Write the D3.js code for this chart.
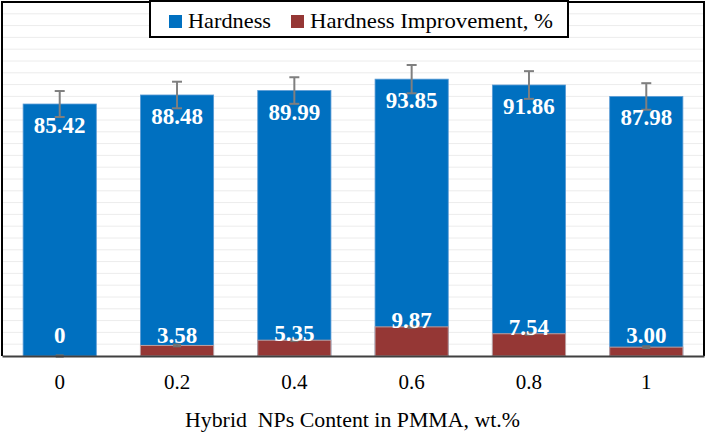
<!DOCTYPE html>
<html>
<head>
<meta charset="utf-8">
<script src="https://cdn.jsdelivr.net/npm/d3@7"></script>
<style>
  body { margin: 0; background: #fff; }
</style>
</head>
<body>
<div id="graph"></div>
<script>
// data
var categories = ["0", "0.2", "0.4", "0.6", "0.8", "1"];
var hardness = [85.42, 88.48, 89.99, 93.85, 91.86, 87.98];
var hardnessErr = [4.4, 4.5, 4.5, 4.8, 4.7, 4.5];
var improvement = [0, 3.58, 5.35, 9.87, 7.54, 3.00];
var improvementLabels = ["0", "3.58", "5.35", "9.87", "7.54", "3.00"];
var improvementErr = [0.2, 0.3, 0.3, 0.3, 0.3, 0.3];
var seriesNames = ["Hardness", "Hardness Improvement, %"];
var xTitle = "Hybrid  NPs Content in PMMA, wt.%";

var svgWidth = 706, svgHeight = 433;
var margin = { top: 2, right: 2, bottom: 77, left: 2 };
var width = svgWidth - margin.left - margin.right;
var height = svgHeight - margin.top - margin.bottom;

var blue = "#0070c0", red = "#953735";
var serif = "Liberation Serif";

var svg = d3.select("#graph")
  .append("svg")
    .attr("width", svgWidth)
    .attr("height", svgHeight)
    .attr("font-family", serif);

var g = svg.append("g")
    .attr("transform", "translate(" + margin.left + "," + margin.top + ")");

var x = d3.scaleBand()
    .domain(categories)
    .range([0, width])
    .paddingInner(0.376)
    .paddingOuter(0.18);

var y = d3.scaleLinear()
    .domain([0, 120])
    .range([height, 0]);

// gridlines
g.append("g")
  .selectAll("line")
  .data(d3.range(4, 120, 4))
  .join("line")
    .attr("x1", 0)
    .attr("x2", width)
    .attr("y1", function(d) { return y(d); })
    .attr("y2", function(d) { return y(d); })
    .attr("stroke", "#ececec")
    .attr("stroke-width", 1);

// hardness bars
g.append("g")
  .selectAll("rect")
  .data(hardness)
  .join("rect")
    .attr("x", function(d, i) { return x(categories[i]); })
    .attr("y", function(d) { return y(d); })
    .attr("width", x.bandwidth())
    .attr("height", function(d) { return y(0) - y(d); })
    .attr("fill", blue)
    .attr("stroke", "#5b9bd5")
    .attr("stroke-width", 0.8);

// improvement bars
g.append("g")
  .selectAll("rect")
  .data(improvement)
  .join("rect")
    .attr("x", function(d, i) { return x(categories[i]); })
    .attr("y", function(d) { return y(d); })
    .attr("width", x.bandwidth())
    .attr("height", function(d) { return y(0) - y(d); })
    .attr("fill", red)
    .attr("stroke", "#c0a0a0")
    .attr("stroke-width", 1);

function errorBars(values, errs, color, capW) {
  var eg = g.append("g").attr("stroke", color).attr("stroke-width", 2);
  values.forEach(function(v, i) {
    var cx = x(categories[i]) + x.bandwidth() / 2;
    var y1 = y(v + errs[i]), y2 = y(v - errs[i]);
    eg.append("line").attr("x1", cx).attr("x2", cx).attr("y1", y1).attr("y2", y2);
    eg.append("line").attr("x1", cx - capW / 2).attr("x2", cx + capW / 2).attr("y1", y1).attr("y2", y1);
    eg.append("line").attr("x1", cx - capW / 2).attr("x2", cx + capW / 2).attr("y1", y2).attr("y2", y2);
  });
}
errorBars(hardness, hardnessErr, "#7f7f7f", 10);
errorBars(improvement, improvementErr, "#6f6f6f", 8);

// value labels
g.append("g")
  .selectAll("text")
  .data(hardness)
  .join("text")
    .attr("x", function(d, i) { return x(categories[i]) + x.bandwidth() / 2; })
    .attr("y", function(d) { return y(d) + 29; })
    .attr("text-anchor", "middle")
    .attr("fill", "#fff")
    .attr("font-family", serif)
    .attr("font-weight", "bold")
    .attr("font-size", 23)
    .text(function(d) { return d.toFixed(2); });

g.append("g")
  .selectAll("text")
  .data(improvement)
  .join("text")
    .attr("x", function(d, i) { return x(categories[i]) + x.bandwidth() / 2; })
    .attr("y", function(d) { return Math.min(y(d) + 1, y(0) - 13); })
    .attr("text-anchor", "middle")
    .attr("fill", "#fff")
    .attr("font-family", serif)
    .attr("font-weight", "bold")
    .attr("font-size", 23)
    .text(function(d, i) { return improvementLabels[i]; });

// frame
g.append("path")
    .attr("d", "M0," + height + "V0H" + width + "V" + height)
    .attr("fill", "none")
    .attr("stroke", "#000")
    .attr("stroke-width", 2);

// x axis
var xAxis = g.append("g")
    .attr("transform", "translate(0," + height + ")")
    .call(d3.axisBottom(x).tickSize(0).tickPadding(18));
xAxis.attr("font-family", serif);
xAxis.select(".domain").attr("stroke", "#404040").attr("stroke-width", 2);
xAxis.selectAll("text")
    .attr("font-family", serif)
    .attr("font-size", 21)
    .attr("fill", "#000");

svg.append("text")
    .attr("x", 185)
    .attr("y", 427)
    .attr("font-family", serif)
    .attr("font-size", 22)
    .attr("textLength", 335)
    .attr("lengthAdjust", "spacingAndGlyphs")
    .attr("xml:space", "preserve")
    .text(xTitle);

// legend
var legend = svg.append("g");
legend.append("rect")
    .attr("x", 150).attr("y", 1)
    .attr("width", 418).attr("height", 36)
    .attr("fill", "#fff")
    .attr("stroke", "#000")
    .attr("stroke-width", 2);
var legendX = [169, 291];
var legendLen = [83, 243];
[blue, red].forEach(function(c, i) {
  legend.append("rect")
      .attr("x", legendX[i]).attr("y", 15)
      .attr("width", 13).attr("height", 13)
      .attr("fill", c);
  legend.append("text")
      .attr("x", legendX[i] + 19).attr("y", 28)
      .attr("font-family", serif)
      .attr("font-size", 21)
      .attr("textLength", legendLen[i])
      .attr("lengthAdjust", "spacingAndGlyphs")
      .text(seriesNames[i]);
});
</script>
</body>
</html>
